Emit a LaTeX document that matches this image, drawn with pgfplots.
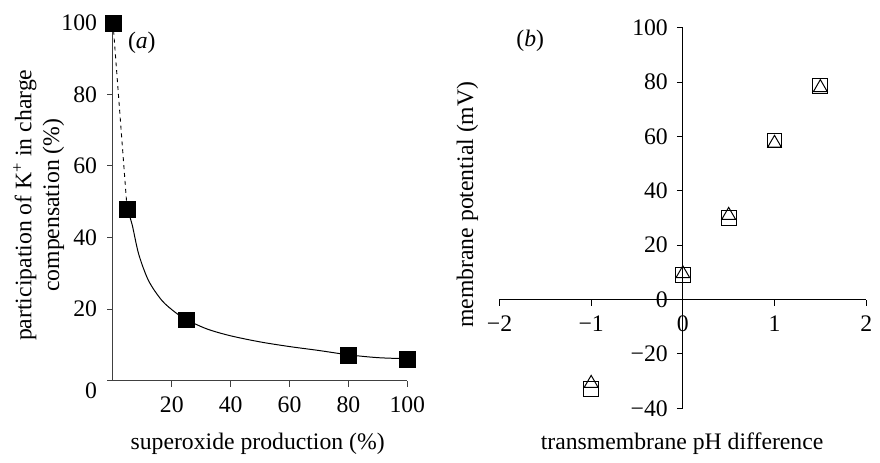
\documentclass[border=0pt]{standalone}
\usepackage{pgfplots}
\pgfplotsset{compat=1.18}
\usepackage{fontspec}
\setmainfont{Liberation Serif}
\begin{document}
\fontsize{24}{28}\selectfont
\begin{tikzpicture}[x=1bp,y=1bp]
\path (0,0) rectangle (880,455);
% ---------- panel (a) ----------
\begin{axis}[
  at={(114bp,71bp)}, anchor=south west,
  scale only axis, width=297bp, height=361bp,
  xmin=0, xmax=100, ymin=0, ymax=100,
  axis x line*=bottom, axis y line*=left,
  axis line style={line width=1bp, black!75},
  tick style={line width=1bp, black!75},
  tick align=outside, major tick length=6bp,
  xtick={20,40,60,80,100}, ytick={20,40,60,80,100},
  extra y ticks={0}, extra y tick style={yticklabel style={yshift=-10bp}},
  /pgf/number format/assume math mode=true,
  xticklabel style={yshift=-2bp},
  yticklabel style={xshift=-2bp},
  clip=false,
  xlabel={superoxide production (\%)},
  xlabel style={at={(axis description cs:0.4916,-0.177)}, anchor=center},
  ylabel={participation of K\textsuperscript{+} in charge\\compensation (\%)},
  ylabel style={at={(axis description cs:-0.2525,0.49)}, anchor=center, align=center, rotate=0},
]
\addplot[black, line width=0.9bp, dash pattern=on 4bp off 4bp] coordinates {(0,100) (4.8,48)};
\addplot[black, line width=1bp, smooth, tension=0.5] coordinates {
(4.8,48) (6.5,43.6) (8.75,35.3) (12.1,27.9) (16.6,22.4) (21.1,19.1) (25,17)
(32,14.4) (40,12.5) (50,10.8) (60,9.5) (70,8.4) (80,7.2) (90,6.4) (100,6.1)};
\addplot[only marks, mark=square*, mark size=8bp, black] coordinates {
(0,100) (4.8,48) (25,17) (80,7.1) (100,6.0)};
\node at (axis cs:9.8,94.5) {(\textit{a})};
\end{axis}
% ---------- panel (b) ----------
\begin{axis}[
  at={(504bp,43bp)}, anchor=south west,
  scale only axis, width=370bp, height=384bp,
  xmin=-2, xmax=2, ymin=-40, ymax=100,
  axis x line*=middle, axis y line*=middle,
  hide obscured x ticks=false, hide obscured y ticks=false,
  axis line style={line width=1bp, black},
  tick style={line width=1bp, black},
  tick align=outside, major tick length=6bp,
  xtick={-2,-1,0,1,2}, xticklabels={−2,−1,0,1,2},
  ytick={-40,-20,0,20,40,60,80,100}, yticklabels={−40,−20,0,20,40,60,80,100},
  xticklabel style={yshift=-2bp},
  yticklabel style={xshift=-1bp},
  clip=false,
  xlabel={transmembrane pH difference},
  xlabel style={at={(axis description cs:0.498,-0.094)}, anchor=center},
  ylabel={membrane potential (mV)},
  ylabel style={at={(axis description cs:-0.0873,0.535)}, anchor=center, rotate=0},
]
\addplot[only marks, mark=square, mark size=7.5bp, mark options={line width=1bp}, black] coordinates {
(-1,-33) (0,9) (0.5,30) (1,58.5) (1.5,78.5)};
\addplot[only marks, mark=triangle, mark size=8bp, mark options={line width=1bp}, black] coordinates {
(-1,-30.8) (0,9.5) (0.5,31) (1,57.5) (1.5,78)};
\node at (axis cs:-1.665,95.2) {(\textit{b})};
\end{axis}
\end{tikzpicture}
\end{document}
